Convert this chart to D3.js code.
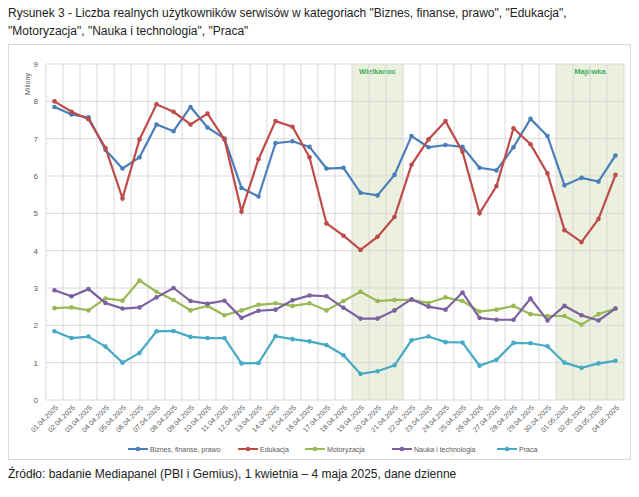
<!DOCTYPE html>
<html><head><meta charset="utf-8">
<script src="https://cdn.jsdelivr.net/npm/d3@7"></script>
<style>body{margin:0;background:#fff;font-family:"Liberation Sans",Arial,sans-serif}</style>
</head><body><svg id="c" width="639" height="497"></svg>
<script>
const dates=["01.04.2025","02.04.2025","03.04.2025","04.04.2025","05.04.2025","06.04.2025","07.04.2025","08.04.2025","09.04.2025","10.04.2025","11.04.2025","12.04.2025","13.04.2025","14.04.2025","15.04.2025","16.04.2025","17.04.2025","18.04.2025","19.04.2025","20.04.2025","21.04.2025","22.04.2025","23.04.2025","24.04.2025","25.04.2025","26.04.2025","27.04.2025","28.04.2025","29.04.2025","30.04.2025","01.05.2025","02.05.2025","03.05.2025","04.05.2025"];
const biznes=[7.85,7.65,7.57,6.7,6.2,6.5,7.38,7.2,7.85,7.3,7.0,5.68,5.45,6.88,6.93,6.78,6.2,6.22,5.55,5.48,6.03,7.07,6.77,6.83,6.78,6.22,6.15,6.77,7.53,7.07,5.75,5.95,5.85,6.55];
const edukacja=[8.0,7.72,7.52,6.75,5.4,6.98,7.92,7.72,7.38,7.67,6.98,5.05,6.45,7.47,7.32,6.5,4.73,4.4,4.02,4.37,4.9,6.3,6.98,7.47,6.65,5.0,5.73,7.28,6.85,6.07,4.55,4.23,4.85,6.03];
const motoryzacja=[2.46,2.48,2.4,2.72,2.66,3.2,2.9,2.68,2.4,2.52,2.27,2.4,2.55,2.59,2.52,2.59,2.4,2.65,2.9,2.65,2.68,2.68,2.6,2.75,2.65,2.37,2.42,2.52,2.3,2.25,2.25,2.02,2.3,2.45];
const nauka=[2.94,2.78,2.97,2.6,2.45,2.48,2.75,3.0,2.65,2.58,2.66,2.2,2.39,2.42,2.67,2.8,2.78,2.47,2.18,2.18,2.4,2.7,2.5,2.42,2.88,2.2,2.15,2.15,2.72,2.13,2.52,2.27,2.13,2.45];
const praca=[1.84,1.66,1.7,1.43,1.0,1.26,1.84,1.85,1.69,1.66,1.66,0.98,0.99,1.71,1.63,1.57,1.47,1.2,0.7,0.77,0.93,1.6,1.7,1.55,1.54,0.92,1.08,1.53,1.52,1.44,1.0,0.86,0.98,1.05];
const yTicks=[0,1,2,3,4,5,6,7,8,9];
const series=[
 {name:"Biznes, finanse, prawo",values:biznes,color:"#4a7ebb"},
 {name:"Edukacja",values:edukacja,color:"#be4b48"},
 {name:"Motoryzacja",values:motoryzacja,color:"#98b954"},
 {name:"Nauka i technologia",values:nauka,color:"#7d60a0"},
 {name:"Praca",values:praca,color:"#46aac5"}];
const bands=[{label:"Wielkanoc",from:"19.04.2025",to:"21.04.2025"},{label:"Majówka",from:"01.05.2025",to:"04.05.2025"}];

const svg=d3.select("#c");
svg.append("text").attr("x",8).attr("y",17).attr("font-size",12).attr("fill","#222").text('Rysunek 3 - Liczba realnych użytkowników serwisów w kategoriach "Biznes, finanse, prawo", "Edukacja",');
svg.append("text").attr("x",8).attr("y",35).attr("font-size",12).attr("fill","#222").text('"Motoryzacja", "Nauka i technologia", "Praca"');
svg.append("rect").attr("x",8.5).attr("y",44.5).attr("width",622).attr("height",415).attr("fill","#fff").attr("stroke","#d9d9d9");
svg.append("text").attr("x",8).attr("y",478).attr("font-size",12).attr("fill","#222").text("Źródło: badanie Mediapanel (PBI i Gemius), 1 kwietnia – 4 maja 2025, dane dzienne");

const L=46,R=624,T=64,B=400;
const x=d3.scaleBand().domain(dates).range([L,R]);
const y=d3.scaleLinear().domain([0,9]).range([B,T]);
const cx=d=>x(d)+x.bandwidth()/2;
bands.forEach(b=>{
 const x0=x(b.from),x1=x(b.to)+x.bandwidth();
 svg.append("rect").attr("x",x0).attr("y",T).attr("width",x1-x0).attr("height",B-T).attr("fill","#ebf1de");
 svg.append("text").attr("x",(x0+x1)/2).attr("y",T+10).attr("text-anchor","middle").attr("font-size",7.5).attr("font-weight","bold").attr("fill","#3cae5a").text(b.label);
});
const g=svg.append("g");
yTicks.forEach(t=>{g.append("line").attr("x1",L).attr("x2",R).attr("y1",y(t)).attr("y2",y(t)).attr("stroke","#d9d9d9");
 g.append("text").attr("x",L-8).attr("y",y(t)+3).attr("text-anchor","end").attr("font-size",8).attr("fill","#595959").text(t);});
dates.forEach(d=>{g.append("line").attr("x1",x(d)).attr("x2",x(d)).attr("y1",T).attr("y2",B).attr("stroke","#d9d9d9");});
g.append("line").attr("x1",R).attr("x2",R).attr("y1",T).attr("y2",B).attr("stroke","#d9d9d9");
svg.append("text").attr("transform",`translate(30,${T+20}) rotate(-90)`).attr("text-anchor","middle").attr("font-size",7).attr("fill","#595959").text("Miliony");
dates.forEach(d=>{svg.append("text").attr("transform",`translate(${cx(d)+4},${B+8}) rotate(-45)`).attr("text-anchor","end").attr("font-size",7).attr("fill","#595959").text(d);});
const line=d3.line().x((v,i)=>cx(dates[i])).y(v=>y(v));
series.forEach(s=>{
 svg.append("path").attr("d",line(s.values)).attr("fill","none").attr("stroke",s.color).attr("stroke-width",2.2);
 svg.selectAll(null).data(s.values).enter().append("circle").attr("cx",(v,i)=>cx(dates[i])).attr("cy",v=>y(v)).attr("r",2.3).attr("fill",s.color);
});
// legend
const lx=[128,238,305,392,497];
series.forEach((s,i)=>{
 const ly=449;
 svg.append("line").attr("x1",lx[i]).attr("x2",lx[i]+20).attr("y1",ly).attr("y2",ly).attr("stroke",s.color).attr("stroke-width",2);
 svg.append("circle").attr("cx",lx[i]+10).attr("cy",ly).attr("r",2.3).attr("fill",s.color);
 svg.append("text").attr("x",lx[i]+22).attr("y",ly+2.5).attr("font-size",7).attr("fill","#595959").text(s.name);
});
</script></body></html>
